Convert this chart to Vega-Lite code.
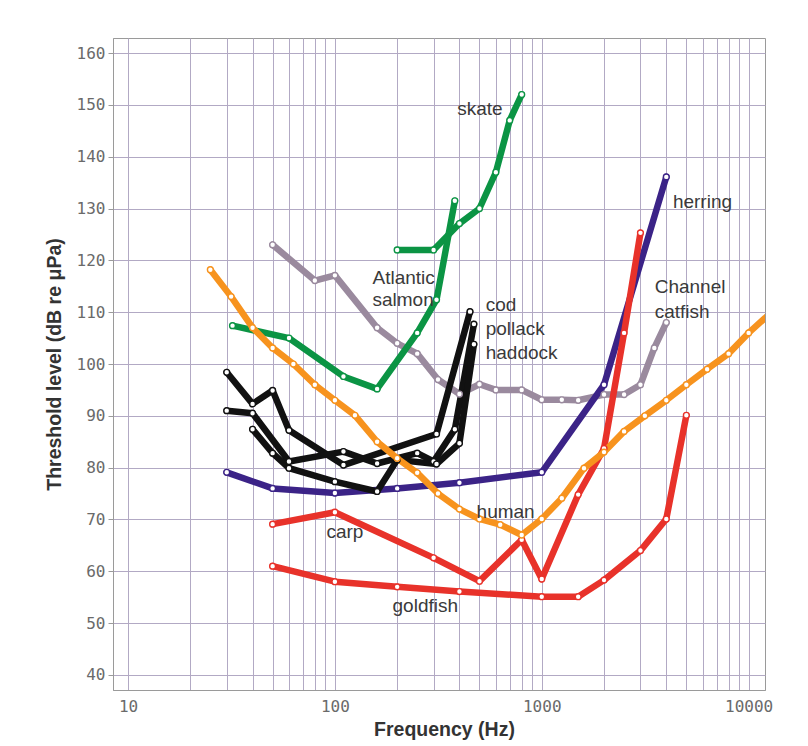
{
  "$schema": "https://vega.github.io/schema/vega-lite/v6.json",
  "width": 652,
  "height": 652,
  "autosize": {"type": "none"},
  "padding": {"left": 113, "top": 38, "right": 43, "bottom": 56},
  "background": "white",
  "config": {"view": {"stroke": "#9a9a9a", "strokeWidth": 1}},
  "datasets": {
    "curves": [
      {"s": "catfish", "f": 50, "db": 123}, {"s": "catfish", "f": 80, "db": 116.1}, {"s": "catfish", "f": 100, "db": 117.1}, {"s": "catfish", "f": 160, "db": 107}, {"s": "catfish", "f": 200, "db": 104}, {"s": "catfish", "f": 250, "db": 102}, {"s": "catfish", "f": 315, "db": 97}, {"s": "catfish", "f": 400, "db": 94.2}, {"s": "catfish", "f": 500, "db": 96.1}, {"s": "catfish", "f": 600, "db": 95}, {"s": "catfish", "f": 800, "db": 95}, {"s": "catfish", "f": 1000, "db": 93.1}, {"s": "catfish", "f": 1250, "db": 93.1}, {"s": "catfish", "f": 1500, "db": 93}, {"s": "catfish", "f": 2000, "db": 94.1}, {"s": "catfish", "f": 2500, "db": 94.1}, {"s": "catfish", "f": 3000, "db": 96}, {"s": "catfish", "f": 3500, "db": 103.1}, {"s": "catfish", "f": 4000, "db": 108},
      {"s": "herring", "f": 30, "db": 79.1}, {"s": "herring", "f": 50, "db": 76}, {"s": "herring", "f": 100, "db": 75.1}, {"s": "herring", "f": 200, "db": 76}, {"s": "herring", "f": 400, "db": 77.1}, {"s": "herring", "f": 1000, "db": 79.1}, {"s": "herring", "f": 2000, "db": 96}, {"s": "herring", "f": 4000, "db": 136.1},
      {"s": "goldfish", "f": 50, "db": 61}, {"s": "goldfish", "f": 100, "db": 58}, {"s": "goldfish", "f": 200, "db": 57}, {"s": "goldfish", "f": 400, "db": 56.1}, {"s": "goldfish", "f": 1000, "db": 55.1}, {"s": "goldfish", "f": 1500, "db": 55.1}, {"s": "goldfish", "f": 2000, "db": 58.3}, {"s": "goldfish", "f": 3000, "db": 64}, {"s": "goldfish", "f": 4000, "db": 70.1}, {"s": "goldfish", "f": 5000, "db": 90.1},
      {"s": "carp", "f": 50, "db": 69.1}, {"s": "carp", "f": 100, "db": 71.4}, {"s": "carp", "f": 300, "db": 62.6}, {"s": "carp", "f": 500, "db": 58.1}, {"s": "carp", "f": 800, "db": 66.1}, {"s": "carp", "f": 1000, "db": 58.5}, {"s": "carp", "f": 1500, "db": 74.8}, {"s": "carp", "f": 2000, "db": 83.7}, {"s": "carp", "f": 2500, "db": 106}, {"s": "carp", "f": 3000, "db": 125.3},
      {"s": "cod", "f": 30, "db": 98.4}, {"s": "cod", "f": 40, "db": 92.3}, {"s": "cod", "f": 50, "db": 94.9}, {"s": "cod", "f": 60, "db": 87.2}, {"s": "cod", "f": 110, "db": 80.5}, {"s": "cod", "f": 310, "db": 86.5}, {"s": "cod", "f": 450, "db": 110.1},
      {"s": "pollack", "f": 30, "db": 91}, {"s": "pollack", "f": 40, "db": 90.5}, {"s": "pollack", "f": 60, "db": 81.2}, {"s": "pollack", "f": 110, "db": 83.1}, {"s": "pollack", "f": 160, "db": 80.8}, {"s": "pollack", "f": 250, "db": 82.8}, {"s": "pollack", "f": 300, "db": 81.2}, {"s": "pollack", "f": 380, "db": 87.4}, {"s": "pollack", "f": 470, "db": 107.7},
      {"s": "haddock", "f": 40, "db": 87.4}, {"s": "haddock", "f": 50, "db": 82.8}, {"s": "haddock", "f": 60, "db": 79.9}, {"s": "haddock", "f": 100, "db": 77.3}, {"s": "haddock", "f": 160, "db": 75.4}, {"s": "haddock", "f": 200, "db": 81.5}, {"s": "haddock", "f": 310, "db": 80.7}, {"s": "haddock", "f": 400, "db": 84.7}, {"s": "haddock", "f": 470, "db": 103.8},
      {"s": "skate", "f": 200, "db": 122}, {"s": "skate", "f": 300, "db": 122}, {"s": "skate", "f": 400, "db": 127.1}, {"s": "skate", "f": 500, "db": 130}, {"s": "skate", "f": 600, "db": 137}, {"s": "skate", "f": 700, "db": 147}, {"s": "skate", "f": 800, "db": 152},
      {"s": "salmon", "f": 32, "db": 107.4}, {"s": "salmon", "f": 60, "db": 105}, {"s": "salmon", "f": 110, "db": 97.6}, {"s": "salmon", "f": 160, "db": 95.2}, {"s": "salmon", "f": 250, "db": 106}, {"s": "salmon", "f": 310, "db": 112.4}, {"s": "salmon", "f": 380, "db": 131.5},
      {"s": "human", "f": 25, "db": 118.2}, {"s": "human", "f": 31.5, "db": 113}, {"s": "human", "f": 40, "db": 107}, {"s": "human", "f": 50, "db": 103.1}, {"s": "human", "f": 63, "db": 100}, {"s": "human", "f": 80, "db": 96}, {"s": "human", "f": 100, "db": 93}, {"s": "human", "f": 125, "db": 90.1}, {"s": "human", "f": 160, "db": 85}, {"s": "human", "f": 200, "db": 81.8}, {"s": "human", "f": 250, "db": 79}, {"s": "human", "f": 315, "db": 75}, {"s": "human", "f": 400, "db": 72}, {"s": "human", "f": 500, "db": 70.1}, {"s": "human", "f": 630, "db": 69}, {"s": "human", "f": 800, "db": 67}, {"s": "human", "f": 1000, "db": 70.1}, {"s": "human", "f": 1250, "db": 74.1}, {"s": "human", "f": 1600, "db": 79.9}, {"s": "human", "f": 2000, "db": 83}, {"s": "human", "f": 2500, "db": 87}, {"s": "human", "f": 3150, "db": 90}, {"s": "human", "f": 4000, "db": 93}, {"s": "human", "f": 5000, "db": 96}, {"s": "human", "f": 6300, "db": 99}, {"s": "human", "f": 8000, "db": 102}, {"s": "human", "f": 10000, "db": 106}, {"s": "human", "f": 12500, "db": 109.5}
    ],
    "labels": [
      {"t": "skate", "f": 390, "db": 149.2},
      {"t": "herring", "f": 4305, "db": 131.2},
      {"t": "Channel", "f": 3515, "db": 114.8},
      {"t": "catfish", "f": 3515, "db": 110.1},
      {"t": "Atlantic", "f": 152, "db": 116.6},
      {"t": "salmon", "f": 152, "db": 112.4},
      {"t": "cod", "f": 536, "db": 111.4},
      {"t": "pollack", "f": 536, "db": 106.7},
      {"t": "haddock", "f": 536, "db": 102.2},
      {"t": "human", "f": 484, "db": 71.5},
      {"t": "carp", "f": 91, "db": 67.5},
      {"t": "goldfish", "f": 190, "db": 53.3}
    ]
  },
  "layer": [
    {
      "data": {"name": "curves"},
      "mark": {"type": "line", "strokeWidth": 6.5, "strokeCap": "round", "strokeJoin": "round", "clip": true},
      "encoding": {
        "x": {
          "field": "f", "type": "quantitative",
          "scale": {"type": "log", "domain": [8.46, 12000], "nice": false},
          "axis": {
            "title": "Frequency (Hz)",
            "values": [10, 20, 30, 40, 50, 60, 70, 80, 90, 100, 200, 300, 400, 500, 600, 700, 800, 900, 1000, 2000, 3000, 4000, 5000, 6000, 7000, 8000, 9000, 10000],
            "labelExpr": "indexof([10, 100, 1000, 10000], datum.value) >= 0 ? format(datum.value, 'd') : ''",
            "grid": true, "gridColor": "#b2a9c4", "gridWidth": 1, "gridOpacity": 1,
            "ticks": false, "domainColor": "#9a9a9a",
            "labelFont": "DejaVu Sans Mono", "labelFontSize": 16, "labelColor": "#6a6a6a", "labelPadding": 8, "labelFlush": false, "labelOverlap": false,
            "titleFont": "Liberation Sans", "titleFontSize": 19.5, "titleFontWeight": "bold", "titleColor": "#333333",
            "titleX": 331, "titleY": 39, "titleBaseline": "middle", "titleAlign": "center"
          }
        },
        "y": {
          "field": "db", "type": "quantitative",
          "scale": {"domain": [37.1, 162.9], "nice": false, "zero": false},
          "axis": {
            "title": "Threshold level (dB re μPa)",
            "values": [40, 50, 60, 70, 80, 90, 100, 110, 120, 130, 140, 150, 160],
            "grid": true, "gridColor": "#b2a9c4", "gridWidth": 1, "gridOpacity": 1,
            "tickSize": 5, "tickColor": "#9a9a9a", "domainColor": "#9a9a9a",
            "labelFont": "DejaVu Sans Mono", "labelFontSize": 16, "labelColor": "#6a6a6a", "labelPadding": 3,
            "titleFont": "Liberation Sans", "titleFontSize": 19.5, "titleFontWeight": "bold", "titleColor": "#333333",
            "titleX": -59, "titleY": 326, "titleAngle": -90, "titleBaseline": "middle", "titleAlign": "center"
          }
        },
        "color": {
          "field": "s", "type": "nominal", "legend": null,
          "scale": {
            "domain": ["catfish", "herring", "goldfish", "carp", "cod", "pollack", "haddock", "skate", "salmon", "human"],
            "range": ["#9a8a9e", "#3b2387", "#e8322a", "#e8322a", "#111111", "#111111", "#111111", "#0b9444", "#0b9444", "#f7931e"]
          }
        }
      }
    },
    {
      "data": {"name": "curves"},
      "mark": {"type": "point", "filled": true, "fill": "white", "size": 34, "strokeWidth": 1.4, "opacity": 1, "clip": true},
      "encoding": {
        "x": {"field": "f", "type": "quantitative"},
        "y": {"field": "db", "type": "quantitative"},
        "stroke": {"field": "s", "type": "nominal", "legend": null,
          "scale": {
            "domain": ["catfish", "herring", "goldfish", "carp", "cod", "pollack", "haddock", "skate", "salmon", "human"],
            "range": ["#9a8a9e", "#3b2387", "#e8322a", "#e8322a", "#111111", "#111111", "#111111", "#0b9444", "#0b9444", "#f7931e"]
          }
        }
      }
    },
    {
      "data": {"name": "labels"},
      "mark": {"type": "text", "align": "left", "baseline": "middle", "font": "Liberation Sans", "fontSize": 19, "fill": "#3a3a3a"},
      "encoding": {
        "x": {"field": "f", "type": "quantitative"},
        "y": {"field": "db", "type": "quantitative"},
        "text": {"field": "t"}
      }
    }
  ]
}
